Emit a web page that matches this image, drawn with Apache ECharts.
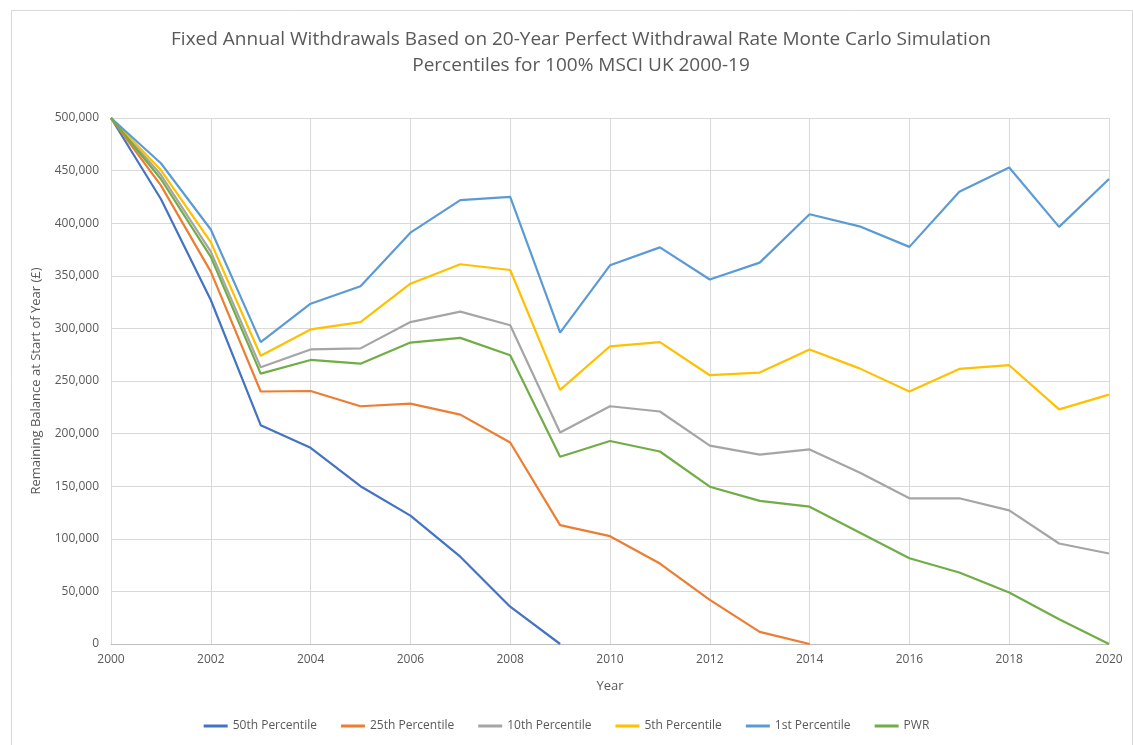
<!DOCTYPE html>
<html>
<head>
<meta charset="utf-8">
<script src="https://cdn.jsdelivr.net/npm/echarts@6/dist/echarts.min.js"></script>
<style>
  html, body { margin: 0; padding: 0; background: #fff; }
  #chart { width: 1133px; height: 745px; }
</style>
</head>
<body>
<div id="chart"></div>
<script>
var years = [2000, 2001, 2002, 2003, 2004, 2005, 2006, 2007, 2008, 2009, 2010,
             2011, 2012, 2013, 2014, 2015, 2016, 2017, 2018, 2019, 2020];
var yTicks = [0, 50000, 100000, 150000, 200000, 250000, 300000, 350000, 400000, 450000, 500000];

// null = balance already exhausted
var p50 = [500000, 423000, 327000, 208000, 186500, 150000, 122000, 83000, 35500, 0,
           null, null, null, null, null, null, null, null, null, null, null];
var p25 = [500000, 436000, 354000, 240000, 240500, 226000, 228500, 218000, 191500, 113000, 102500,
           76500, 42000, 11500, 0, null, null, null, null, null, null];
var p10 = [500000, 446000, 373000, 263000, 280000, 281000, 306000, 316000, 303000, 201000, 226000,
           221000, 188500, 180000, 185000, 163000, 138500, 138500, 127000, 95500, 86000];
var p5 = [500000, 450500, 382000, 274000, 299000, 306000, 342500, 361000, 355500, 241500, 283000,
          287000, 255500, 258000, 280000, 262000, 240000, 261500, 265000, 223000, 237000];
var p1 = [500000, 457000, 394000, 287000, 323500, 340000, 391000, 422000, 425000, 296000, 360000,
          377000, 346500, 362500, 408500, 397000, 377500, 430000, 453000, 396500, 442000];
var pwr = [500000, 442000, 368000, 257000, 270000, 266500, 286500, 291000, 274500, 178000, 193000,
           183000, 149500, 136000, 130500, 106000, 81500, 68000, 49000, 23500, 0];

var seriesNames = ['50th Percentile', '25th Percentile', '10th Percentile', '5th Percentile', '1st Percentile', 'PWR'];
var seriesValues = [p50, p25, p10, p5, p1, pwr];
var colors = ['#4472C4', '#ED7D31', '#A5A5A5', '#FFC000', '#5B9BD5', '#70AD47'];

function pairs(vals) {
  var out = [];
  vals.forEach(function (v, i) { if (v !== null) out.push([years[i], v]); });
  return out;
}

var font = '"Open Sans", "Noto Sans", sans-serif';

var chart = echarts.init(document.getElementById('chart'), null, { renderer: 'canvas' });
chart.setOption({
  animation: false,
  color: colors,
  textStyle: { fontFamily: font },
  graphic: [{
    type: 'rect',
    left: 9, top: 8,
    shape: { width: 1121, height: 745 },
    style: { fill: 'none', stroke: '#d9d9d9', lineWidth: 1 },
    silent: true
  }],
  title: {
    text: 'Fixed Annual Withdrawals Based on 20-Year Perfect Withdrawal Rate Monte Carlo Simulation\nPercentiles for 100% MSCI UK 2000-19',
    left: 576, top: 22, textAlign: 'center',
    textStyle: { fontFamily: font, fontSize: 19, fontWeight: 'normal', color: '#595959', lineHeight: 26 }
  },
  legend: {
    bottom: 8, left: 'center',
    icon: 'rect', itemWidth: 24, itemHeight: 3, itemGap: 24,
    textStyle: { fontFamily: font, fontSize: 12, color: '#595959' },
    data: seriesNames
  },
  grid: { left: 111, right: 24, top: 118, bottom: 101 },
  xAxis: {
    type: 'value', min: 2000, max: 2020, interval: 2,
    name: 'Year', nameLocation: 'middle', nameGap: 36,
    nameTextStyle: { fontFamily: font, fontSize: 13, color: '#595959' },
    axisLine: { lineStyle: { color: '#bfbfbf' } },
    axisTick: { show: false },
    axisLabel: { color: '#595959', fontSize: 12, margin: 10, formatter: function (v) { return String(v); } },
    splitLine: { show: true, lineStyle: { color: '#d9d9d9' } }
  },
  yAxis: {
    type: 'value', min: yTicks[0], max: yTicks[yTicks.length - 1], interval: 50000,
    name: 'Remaining Balance at Start of Year (£)', nameLocation: 'middle', nameGap: 68,
    nameTextStyle: { fontFamily: font, fontSize: 13, color: '#595959' },
    axisLine: { show: false },
    axisTick: { show: false },
    axisLabel: {
      color: '#595959', fontSize: 12, margin: 12,
      formatter: function (v) { return v.toLocaleString('en-GB'); }
    },
    splitLine: { show: true, lineStyle: { color: '#d9d9d9' } }
  },
  series: seriesNames.map(function (n, i) {
    return {
      name: n, type: 'line',
      data: pairs(seriesValues[i]),
      showSymbol: false, symbol: 'none',
      lineStyle: { width: 2.2, color: colors[i] },
      itemStyle: { color: colors[i] }
    };
  })
});
</script>
</body>
</html>
